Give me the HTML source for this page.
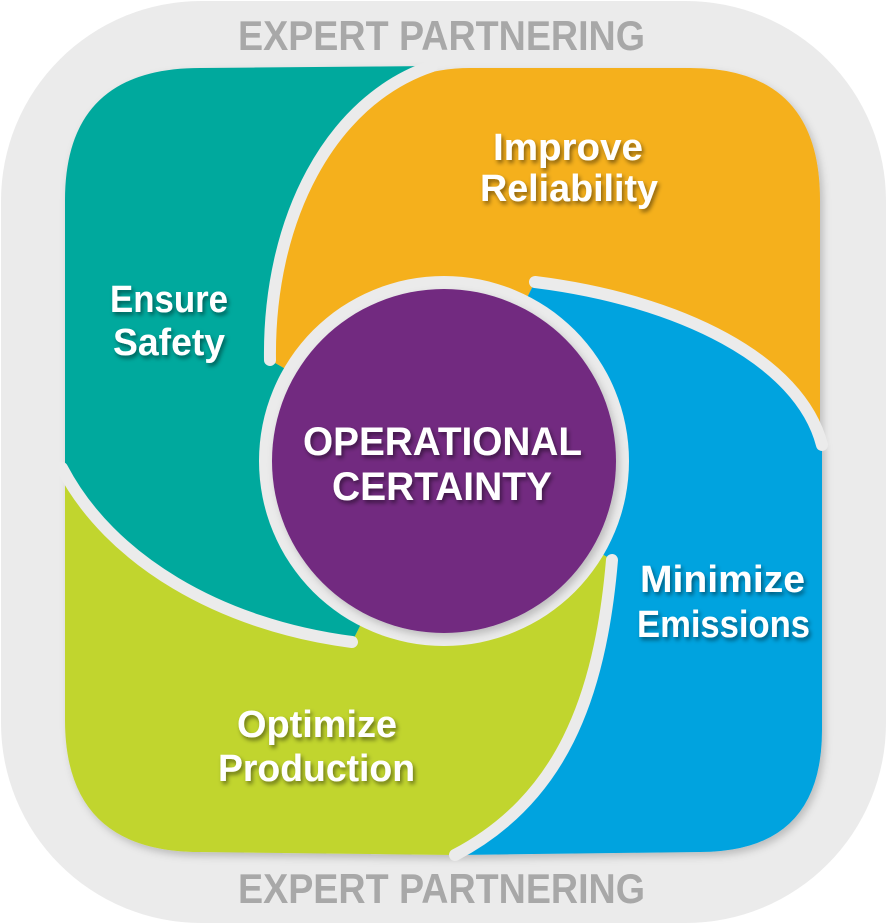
<!DOCTYPE html>
<html><head><meta charset="utf-8"><style>
html,body{margin:0;padding:0;background:#fff;}
svg{display:block;}
text{font-family:"Liberation Sans Narrow","Liberation Sans",sans-serif;}
</style></head><body>
<svg width="887" height="924" viewBox="0 0 887 924" xmlns="http://www.w3.org/2000/svg">
<defs>
<filter id="sh" x="-10%" y="-30%" width="130%" height="160%">
<feDropShadow dx="2" dy="3" stdDeviation="2" flood-color="#000" flood-opacity="0.45"/>
</filter>
<filter id="ps" x="-10%" y="-10%" width="120%" height="120%">
<feDropShadow dx="3" dy="4" stdDeviation="4" flood-color="#000" flood-opacity="0.2"/>
</filter>
</defs>
<rect x="1" y="1" width="885" height="922" rx="200" ry="200" fill="#ebebeb"/>
<g filter="url(#ps)">
<path fill="#00a99d" d="M432,66 L200,68 Q65,68 65,200 L65,470 C110,560 220,625 352,642 L444,460 L270,360 C268,220 330,100 432,66 Z"/>
<path fill="#f5b01e" d="M270,360 C268,220 330,68 470,68 L690,68 Q820,68 820,200 L820,445 C800,360 680,300 535,282 L444,460 Z"/>
<path fill="#00a3df" d="M535,282 C680,300 800,360 822,445 L822,730 Q822,852 700,852 L455,855 C560,800 600,700 612,560 L444,460 Z"/>
<path fill="#c1d52f" d="M612,560 C600,700 560,800 455,855 L200,852 Q65,852 65,720 L65,470 C110,560 220,625 352,642 L444,460 Z"/>
</g>
<g fill="none" stroke="#ebebeb" stroke-width="12" stroke-linecap="round">
<path d="M432,66 C330,100 268,220 270,360"/>
<path d="M535,282 C680,300 800,360 822,445"/>
<path d="M612,560 C600,700 560,800 455,855"/>
<path d="M62,468 C110,560 220,625 352,642"/>
</g>
<circle cx="444" cy="461" r="185" fill="#ebebeb"/>
<circle cx="444" cy="461" r="172" fill="#722a80" filter="url(#ps)"/>
<g fill="#a8a8a8" font-size="42" font-weight="bold">
<text x="238" y="50" textLength="407" lengthAdjust="spacingAndGlyphs">EXPERT PARTNERING</text>
<text x="238" y="903" textLength="407" lengthAdjust="spacingAndGlyphs">EXPERT PARTNERING</text>
</g>
<g fill="#fff" font-weight="bold" font-size="38" filter="url(#sh)">
<text x="493" y="160" textLength="150" lengthAdjust="spacingAndGlyphs">Improve</text>
<text x="480" y="201" textLength="178" lengthAdjust="spacingAndGlyphs">Reliability</text>
<text x="110" y="312" textLength="118" lengthAdjust="spacingAndGlyphs">Ensure</text>
<text x="113" y="355" textLength="112" lengthAdjust="spacingAndGlyphs">Safety</text>
<text x="303" y="455" textLength="279" lengthAdjust="spacingAndGlyphs" font-size="40">OPERATIONAL</text>
<text x="332" y="500" textLength="220" lengthAdjust="spacingAndGlyphs" font-size="40">CERTAINTY</text>
<text x="640" y="592" textLength="165" lengthAdjust="spacingAndGlyphs">Minimize</text>
<text x="637" y="637" textLength="173" lengthAdjust="spacingAndGlyphs">Emissions</text>
<text x="237" y="737" textLength="160" lengthAdjust="spacingAndGlyphs">Optimize</text>
<text x="218" y="781" textLength="197" lengthAdjust="spacingAndGlyphs">Production</text>
</g>
</svg>
</body></html>
